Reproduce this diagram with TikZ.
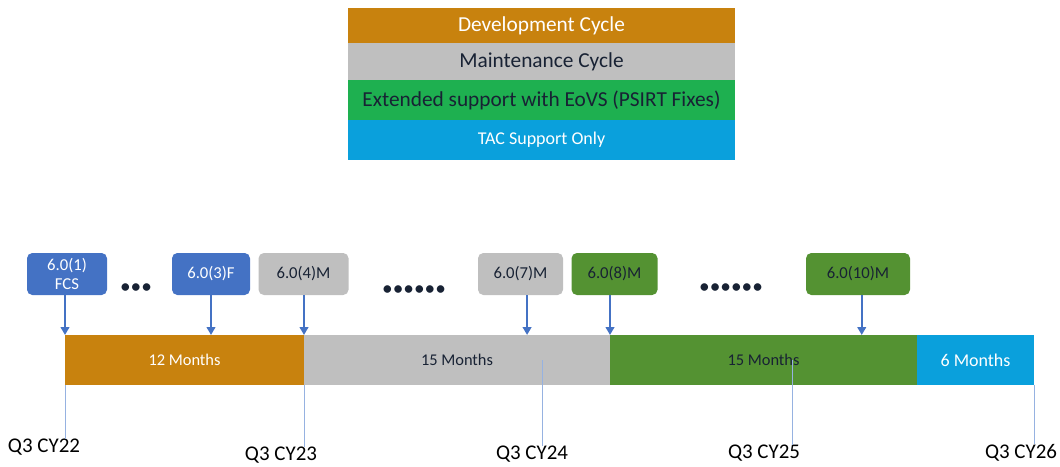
\documentclass[tikz,border=0pt]{standalone}
\usepackage{fontspec}
\setmainfont{Carlito}
\usepackage{tikz}
\usetikzlibrary{positioning}
\usetikzlibrary{calc}
\usetikzlibrary{arrows.meta}
\definecolor{DevOrange}{RGB}{200,130,14}
\definecolor{MntGray}{RGB}{191,191,191}
\definecolor{EovsGreen}{RGB}{30,176,80}
\definecolor{BarGreen}{RGB}{84,146,50}
\definecolor{TacBlue}{RGB}{10,160,220}
\definecolor{RelBlue}{RGB}{68,114,196}
\definecolor{InkNavy}{RGB}{24,34,52}
\definecolor{TickBlue}{RGB}{150,178,225}
\def\LegWidth{290.25pt}
\def\BarHeight{37.5pt}
\def\RelHeight{31.5pt}

\begin{document}
\begin{tikzpicture}[x=0.75pt,y=-0.75pt,
	legrow/.style={inner sep=0pt,outer sep=0pt,minimum width=\LegWidth,font=\fontsize{16}{19}\selectfont},
	seg/.style={inner sep=0pt,outer sep=0pt,minimum height=\BarHeight,font=\fontsize{12.3}{15}\selectfont},
	relbox/.style={rounded corners=4pt,inner sep=0pt,minimum height=\RelHeight,align=center,font=\fontsize{12.5}{14}\selectfont},
	relarrow/.style={RelBlue,line width=1.5pt,-{Triangle[length=6pt,width=6.5pt]}},
	tick/.style={TickBlue,line width=0.6pt},
	qlabel/.style={inner sep=0pt,font=\fontsize{15.7}{18}\selectfont},
	gap/.style={inner sep=0pt,text=InkNavy,font=\fontsize{16}{18}\selectfont}]
	\useasboundingbox (0,0) rectangle (1060,467);
	% legend
	\node[legrow,fill=DevOrange,text=white,minimum height=26.25pt] (ldev) at (541.5,25.5) {Development Cycle};
	\node[legrow,fill=MntGray,text=InkNavy,minimum height=27.75pt,below=0pt of ldev] (lmnt) {Maintenance Cycle};
	\node[legrow,fill=EovsGreen,text=InkNavy,minimum height=30pt,below=0pt of lmnt] (leovs) {Extended support with EoVS (PSIRT Fixes)};
	\node[legrow,fill=TacBlue,text=white,minimum height=30pt,below=0pt of leovs,font=\fontsize{13.5}{16}\selectfont] (ltac) {TAC Support Only};
	% 
	\node[seg,fill=DevOrange,text=white,minimum width=179.25pt,anchor=north west] (y1) at (65,335) {12 Months};
	\node[seg,fill=MntGray,text=InkNavy,minimum width=229.5pt,right=0pt of y1] (y2) {15 Months};
	\node[seg,fill=BarGreen,text=InkNavy,minimum width=230.25pt,right=0pt of y2] (y3) {15 Months};
	\node[seg,fill=TacBlue,text=white,minimum width=87.75pt,right=0pt of y3,font=\fontsize{13.5}{16}\selectfont] (y4) {6 Months};
	% 
	\node[relbox,fill=RelBlue,text=white,minimum width=60pt] (r1) at (67,274) {6.0(1)\\FCS};
	\node[relbox,fill=RelBlue,text=white,minimum width=58.5pt] (r3) at (211,274) {6.0(3)F};
	\node[relbox,fill=MntGray,text=InkNavy,minimum width=67.5pt,right=6pt of r3] (r4) {6.0(4)M};
	\node[relbox,fill=MntGray,text=InkNavy,minimum width=63.75pt] (r7) at (520.5,274) {6.0(7)M};
	\node[relbox,fill=BarGreen,text=InkNavy,minimum width=64.5pt,right=6pt of r7] (r8) {6.0(8)M};
	\node[relbox,fill=BarGreen,text=InkNavy,minimum width=78pt] (r10) at (858,274) {6.0(10)M};
	% 
	\node[gap] (d1) at (136,289) {•••};
	\node[gap] (d2) at (414,291) {••••••};
	\node[gap] (d3) at (731,289) {••••••};
	% 
	\coordinate (p7) at ($(y2.north west)!0.729!(y2.north east)$);
	\coordinate (p10) at ($(y3.north west)!0.82!(y3.north east)$);
	\coordinate (c24) at ($(y2.west)!0.778!(y2.east)$);
	\coordinate (c25) at ($(y3.west)!0.593!(y3.east)$);
	% 
	\node[qlabel] (q22) at (44,447) {Q3 CY22};
	\node[qlabel] (q23) at (281,455) {Q3 CY23};
	\node[qlabel] (q24) at (532,454) {Q3 CY24};
	\node[qlabel] (q25) at (764,453) {Q3 CY25};
	\node[qlabel] (q26) at (1021,453) {Q3 CY26};
	% 
	\draw[tick] (y1.south west) -- (y1.south west |- q22.north);
	\draw[tick] (y1.south east) -- (y1.south east |- q23.north);
	\draw[tick] (c24) -- (c24 |- q24.north);
	\draw[tick] (c25) -- (c25 |- q25.north);
	\draw[tick] (y4.south east) -- (y4.south east |- q26.north);
	% 
	\draw[relarrow] (r1.south -| y1.north west) -- (y1.north west);
	\draw[relarrow] (r3.south) -- (r3.south |- y1.north);
	\draw[relarrow] (r4.south -| y2.north west) -- (y2.north west);
	\draw[relarrow] (r7.south -| p7) -- (p7);
	\draw[relarrow] (r8.south -| y3.north west) -- (y3.north west);
	\draw[relarrow] (r10.south -| p10) -- (p10);
\end{tikzpicture}
\end{document}
